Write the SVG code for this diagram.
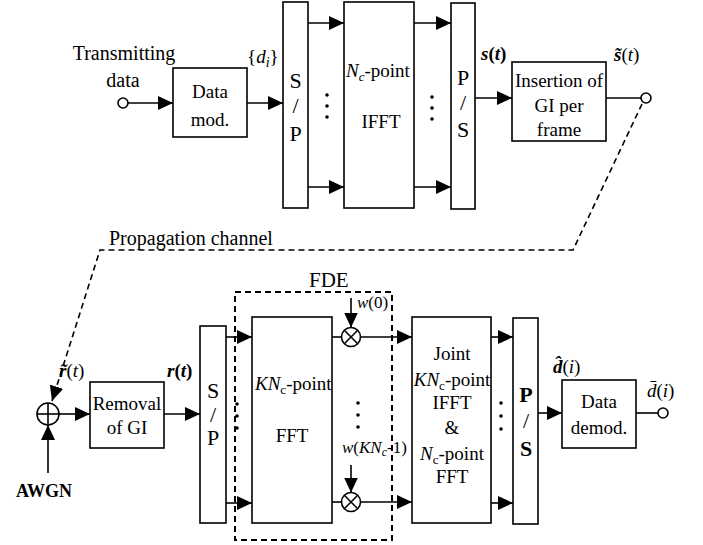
<svg xmlns="http://www.w3.org/2000/svg" width="703" height="545" viewBox="0 0 703 545">
  <style>
    text { font-family: "Liberation Serif", "Times New Roman", serif; font-size: 19px; fill: #000; }
    .c { text-anchor: middle; }
    .i { font-style: italic; }
    .b { font-weight: bold; }
    .big { font-size: 22px; }
    .sm { font-size: 17px; }
    .blk { fill: #fff; stroke: #000; stroke-width: 1.6; }
    .ln { fill: none; stroke: #000; stroke-width: 1.6; }
    .dash { fill: none; stroke: #000; stroke-width: 1.6; stroke-dasharray: 6 4; }
    .port { fill: #fff; stroke: #000; stroke-width: 1.6; }
    .dot { fill: #000; }
  </style>
  <defs>
    <marker id="arr" viewBox="0 0 15 14" refX="15" refY="7" markerWidth="15" markerHeight="14" markerUnits="userSpaceOnUse" orient="auto">
      <path d="M0,0 L15,7 L0,14 Z" fill="#000"/>
    </marker>
  </defs>

  <rect width="703" height="545" fill="#fff"/>

  <!-- connectors -->
  <g id="connectors">
    <line class="ln" x1="128" y1="103" x2="173" y2="103" marker-end="url(#arr)"/>
    <line class="ln" x1="247" y1="103" x2="283" y2="103" marker-end="url(#arr)"/>
    <line class="ln" x1="308" y1="23" x2="344" y2="23" marker-end="url(#arr)"/>
    <line class="ln" x1="308" y1="187" x2="344" y2="187" marker-end="url(#arr)"/>
    <line class="ln" x1="414" y1="23" x2="451" y2="23" marker-end="url(#arr)"/>
    <line class="ln" x1="414" y1="187" x2="451" y2="187" marker-end="url(#arr)"/>
    <line class="ln" x1="475" y1="98" x2="512" y2="98" marker-end="url(#arr)"/>
    <line class="ln" x1="606" y1="98" x2="641" y2="98"/>
    <!-- propagation channel -->
    <polyline class="dash" points="642,104 573,250 100,250 52,401" marker-end="url(#arr)"/>
    <line class="ln" x1="59" y1="414" x2="90" y2="414" marker-end="url(#arr)"/>
    <line class="ln" x1="48" y1="473" x2="48" y2="425" marker-end="url(#arr)"/>
    <line class="ln" x1="164" y1="414" x2="200" y2="414" marker-end="url(#arr)"/>
    <line class="ln" x1="226" y1="337" x2="252" y2="337" marker-end="url(#arr)"/>
    <line class="ln" x1="226" y1="503" x2="252" y2="503" marker-end="url(#arr)"/>
    <line class="ln" x1="332" y1="337" x2="341.5" y2="337"/>
    <line class="ln" x1="332" y1="502" x2="341.5" y2="502"/>
    <line class="ln" x1="351" y1="298" x2="351" y2="327.5" marker-end="url(#arr)"/>
    <line class="ln" x1="351" y1="465" x2="351" y2="492.5" marker-end="url(#arr)"/>
    <line class="ln" x1="360.5" y1="337" x2="412" y2="337" marker-end="url(#arr)"/>
    <line class="ln" x1="360.5" y1="502" x2="412" y2="502" marker-end="url(#arr)"/>
    <line class="ln" x1="491" y1="337" x2="513" y2="337" marker-end="url(#arr)"/>
    <line class="ln" x1="491" y1="503" x2="513" y2="503" marker-end="url(#arr)"/>
    <line class="ln" x1="538" y1="413" x2="562" y2="413" marker-end="url(#arr)"/>
    <line class="ln" x1="636" y1="413" x2="658" y2="413"/>
  </g>

  <!-- transmitter -->
  <g id="tx-input">
    <circle class="port" cx="123" cy="103" r="5"/>
    <text class="c" x="124" y="60" style="font-size:20px">Transmitting</text>
    <text class="c" x="123" y="87" style="font-size:20px">data</text>
  </g>

  <g id="data-mod">
    <rect class="blk" x="173" y="68" width="74" height="69"/>
    <text class="c" x="210" y="98">Data</text>
    <text class="c" x="210" y="126">mod.</text>
    <text x="247" y="63">{<tspan class="i">d</tspan><tspan class="i" font-size="14" dy="4">i</tspan><tspan dy="-4">}</tspan></text>
  </g>

  <g id="sp-tx">
    <rect class="blk" x="283" y="2" width="25" height="206"/>
    <text class="c big" x="295.5" y="88">S</text>
    <text class="c big" x="295.5" y="113">/</text>
    <text class="c big" x="295.5" y="141">P</text>
    <circle class="dot" cx="327" cy="95" r="1.8"/>
    <circle class="dot" cx="327" cy="106" r="1.8"/>
    <circle class="dot" cx="327" cy="117" r="1.8"/>
  </g>

  <g id="ifft">
    <rect class="blk" x="344" y="2" width="70" height="206"/>
    <text x="346" y="77"><tspan class="i">N</tspan><tspan class="i" font-size="13" dy="4">c</tspan><tspan dy="-4">-point</tspan></text>
    <text class="c" x="381" y="128">IFFT</text>
    <circle class="dot" cx="432" cy="97" r="1.8"/>
    <circle class="dot" cx="432" cy="108" r="1.8"/>
    <circle class="dot" cx="432" cy="119" r="1.8"/>
  </g>

  <g id="ps-tx">
    <rect class="blk" x="451" y="3" width="24" height="206"/>
    <text class="c big" x="463" y="85">P</text>
    <text class="c big" x="463" y="110">/</text>
    <text class="c big" x="463" y="137">S</text>
    <text x="481" y="60"><tspan class="i b">s</tspan><tspan class="b">(</tspan><tspan class="i b">t</tspan><tspan class="b">)</tspan></text>
  </g>

  <g id="gi-insert">
    <rect class="blk" x="512" y="62" width="94" height="79"/>
    <text class="c" x="559" y="87">Insertion of</text>
    <text class="c" x="559" y="112">GI per</text>
    <text class="c" x="559" y="136">frame</text>
    <text x="614" y="61"><tspan class="i b">s̃</tspan><tspan>(</tspan><tspan class="i">t</tspan><tspan>)</tspan></text>
  </g>

  <g id="tx-output">
    <circle class="port" cx="646" cy="98" r="5"/>
  </g>

  <g id="channel-label">
    <text x="109" y="245" style="font-size:20px">Propagation channel</text>
  </g>

  <!-- receiver -->
  <g id="adder">
    <circle class="port" cx="48" cy="414" r="11"/>
    <line class="ln" x1="37" y1="414" x2="59" y2="414"/>
    <line class="ln" x1="48" y1="403" x2="48" y2="425"/>
    <text x="59" y="377"><tspan class="i b">r̃</tspan><tspan>(</tspan><tspan class="i">t</tspan><tspan>)</tspan></text>
    <text class="c b" x="44" y="497" style="font-size:18px">AWGN</text>
  </g>

  <g id="gi-removal">
    <rect class="blk" x="90" y="382" width="74" height="66"/>
    <text class="c" x="127" y="410">Removal</text>
    <text class="c" x="127" y="434">of GI</text>
    <text x="167" y="377"><tspan class="i b">r</tspan><tspan class="b">(</tspan><tspan class="i b">t</tspan><tspan class="b">)</tspan></text>
  </g>

  <g id="sp-rx">
    <rect class="blk" x="200" y="326" width="26" height="197"/>
    <text class="c big" x="213" y="398">S</text>
    <text class="c big" x="213" y="422">/</text>
    <text class="c big" x="213" y="445">P</text>
    <circle class="dot" cx="237" cy="404" r="1.8"/>
    <circle class="dot" cx="237" cy="416" r="1.8"/>
    <circle class="dot" cx="237" cy="428" r="1.8"/>
  </g>

  <g id="fde">
    <rect class="dash" x="235" y="292" width="157" height="248" style="stroke-width:2"/>
    <text x="309" y="287" style="font-size:21px">FDE</text>
  </g>

  <g id="fft">
    <rect class="blk" x="252" y="317" width="80" height="206"/>
    <text x="255" y="390"><tspan class="i">KN</tspan><tspan font-size="13" dy="4">c</tspan><tspan dy="-4">-point</tspan></text>
    <text class="c" x="292" y="442">FFT</text>
  </g>

  <g id="mult-0">
    <circle class="port" cx="351" cy="337" r="9.5"/>
    <line class="ln" x1="344.3" y1="330.3" x2="357.7" y2="343.7"/>
    <line class="ln" x1="357.7" y1="330.3" x2="344.3" y2="343.7"/>
    <text class="sm" x="357" y="308"><tspan class="i">w</tspan>(0)</text>
  </g>

  <g id="mult-dots">
    <circle class="dot" cx="358" cy="403" r="1.8"/>
    <circle class="dot" cx="358" cy="415" r="1.8"/>
    <circle class="dot" cx="358" cy="427" r="1.8"/>
  </g>

  <g id="mult-last">
    <circle class="port" cx="351" cy="502" r="9.5"/>
    <line class="ln" x1="344.3" y1="495.3" x2="357.7" y2="508.7"/>
    <line class="ln" x1="357.7" y1="495.3" x2="344.3" y2="508.7"/>
    <text class="sm" x="342" y="453"><tspan class="i">w</tspan>(<tspan class="i">KN</tspan><tspan class="i" font-size="12" dy="3">c</tspan><tspan dy="-3">-1)</tspan></text>
  </g>

  <g id="joint">
    <rect class="blk" x="412" y="317" width="79" height="206"/>
    <text class="c" x="452" y="360">Joint</text>
    <text class="c" x="452" y="386"><tspan class="i">KN</tspan><tspan font-size="13" dy="4">c</tspan><tspan dy="-4">-point</tspan></text>
    <text class="c" x="452" y="409">IFFT</text>
    <text class="c" x="452" y="434">&amp;</text>
    <text class="c" x="452" y="460"><tspan class="i">N</tspan><tspan font-size="13" dy="4">c</tspan><tspan dy="-4">-point</tspan></text>
    <text class="c" x="452" y="483">FFT</text>
    <circle class="dot" cx="501" cy="403" r="1.8"/>
    <circle class="dot" cx="501" cy="416" r="1.8"/>
    <circle class="dot" cx="501" cy="429" r="1.8"/>
  </g>

  <g id="ps-rx">
    <rect class="blk" x="513" y="318" width="25" height="206"/>
    <text class="c big b" x="526" y="402">P</text>
    <text class="c big" x="526" y="428">/</text>
    <text class="c big b" x="526" y="456">S</text>
    <text x="553" y="373"><tspan class="i b">d̂</tspan><tspan>(</tspan><tspan class="i">i</tspan><tspan>)</tspan></text>
  </g>

  <g id="data-demod">
    <rect class="blk" x="562" y="380" width="74" height="68"/>
    <text class="c" x="599" y="408">Data</text>
    <text class="c" x="599" y="434">demod.</text>
    <text x="647" y="397"><tspan class="i">d̄</tspan><tspan>(</tspan><tspan class="i">i</tspan><tspan>)</tspan></text>
  </g>

  <g id="rx-output">
    <circle class="port" cx="663" cy="413" r="5"/>
  </g>
</svg>
